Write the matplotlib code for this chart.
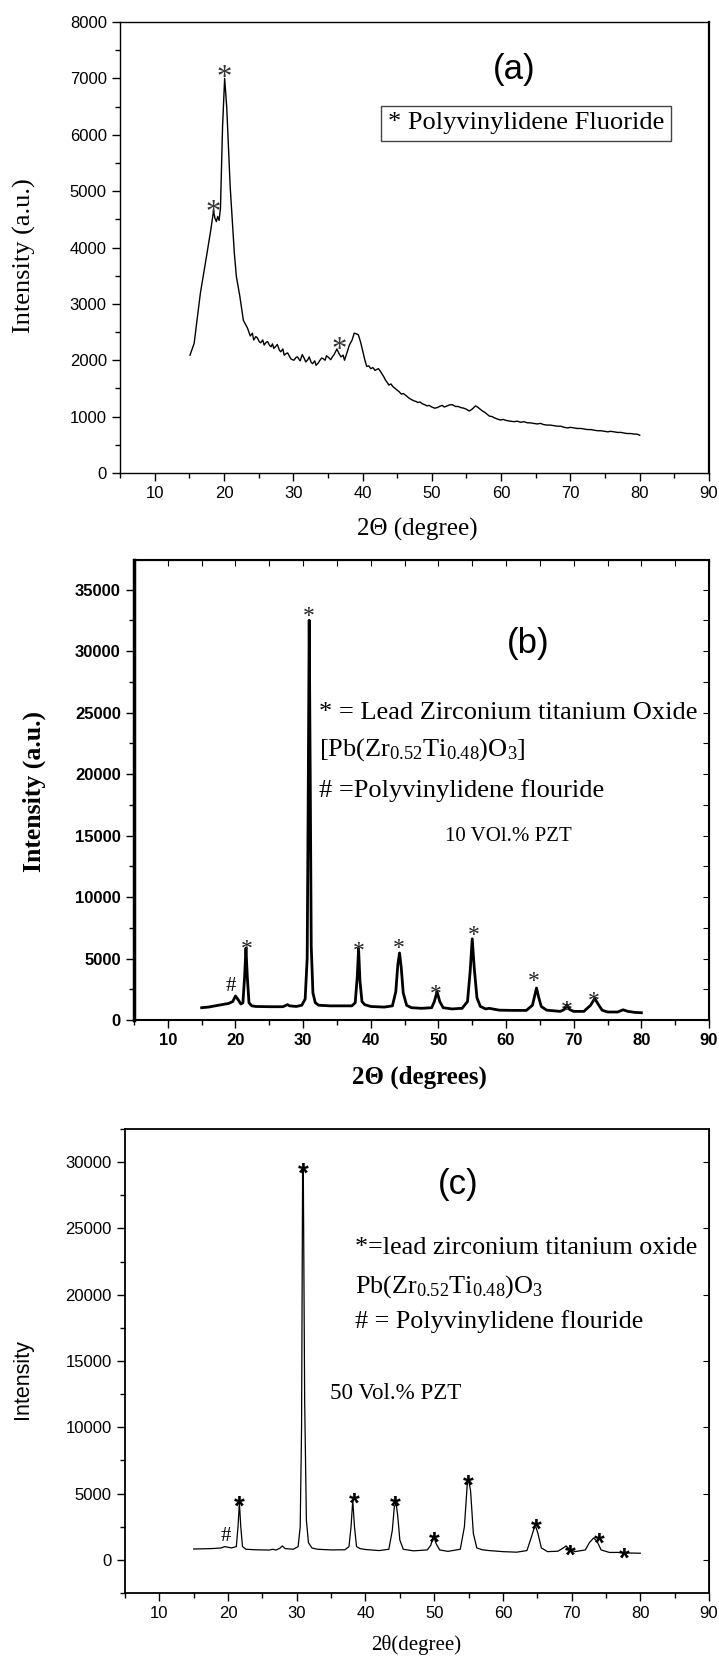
import matplotlib
matplotlib.use("Agg")
import matplotlib.pyplot as plt
from matplotlib.ticker import MultipleLocator

plt.rcParams['mathtext.fontset'] = 'custom'
plt.rcParams['mathtext.rm'] = 'Liberation Serif'
plt.rcParams['mathtext.it'] = 'Liberation Serif:italic'
plt.rcParams['mathtext.bf'] = 'Liberation Serif:bold'

SERIF = 'Liberation Serif'
SANS = 'Liberation Sans'

# ---- panel (a): pure PVDF ----
x_a = [15.1, 15.7, 16.6, 17.4, 18.1, 18.5, 18.7, 18.9, 19.1, 19.3, 19.5, 19.8, 20.1, 20.4, 20.9,
       21.5, 21.8, 22.3, 22.8, 23.1, 23.4, 23.8, 24.1, 24.3, 24.6, 24.8, 25.1, 25.3, 25.6, 25.8,
       26.1, 26.3, 26.6, 26.8, 27.0, 27.2, 27.5, 27.7, 28.0, 28.2, 28.5, 28.7, 29.0, 29.2, 29.5,
       29.7, 30.1, 30.4, 30.6, 31.0, 31.3, 31.6, 31.8, 32.1, 32.3, 32.6, 32.8, 33.1, 33.3, 33.6,
       33.8, 34.1, 34.3, 34.6, 34.8, 35.1, 35.4, 35.7, 35.9, 36.3, 36.6, 36.9, 37.2, 37.4, 37.8,
       38.1, 38.5, 38.8, 39.1, 39.4, 39.7, 40.0, 40.3, 40.6, 40.9, 41.2, 41.5, 41.8, 42.1, 42.3,
       42.6, 42.8, 43.1, 43.3, 43.6, 43.8, 44.1, 44.4, 44.7, 45.0, 45.3, 45.6, 45.9, 46.2, 46.5,
       46.8, 47.1, 47.4, 47.7, 48.0, 48.3, 48.6, 49.0, 49.3, 49.6, 50.0, 50.4, 50.8, 51.1, 51.5,
       51.8, 52.2, 52.6, 53.0, 53.4, 53.8, 54.2, 54.6, 55.0, 55.4, 55.8, 56.3, 56.6, 57.0, 57.3,
       57.6, 58.0, 58.3, 58.7, 59.0, 59.4, 59.9, 60.3, 60.8, 61.3, 61.9, 62.3, 62.8, 63.3, 63.8,
       64.2, 64.7, 65.2, 65.7, 66.1, 66.6, 67.1, 67.6, 68.1, 68.6, 69.1, 69.6, 70.0, 70.5, 71.0,
       71.5, 72.0, 72.5, 73.0, 73.4, 73.9, 74.4, 74.9, 75.4, 75.8, 76.3, 76.8, 77.3, 77.7, 78.2,
       78.7, 79.2, 79.6, 80.0]
y_a = [2090, 2300, 3190, 3780, 4310, 4650, 4520, 4460, 4550, 4480, 4700, 6140, 7000, 6490, 5080,
       3900, 3480, 3130, 2710, 2640, 2570, 2430, 2480, 2360, 2420, 2400, 2330, 2310, 2360, 2270,
       2320, 2330, 2260, 2240, 2290, 2210, 2250, 2280, 2180, 2150, 2200, 2090, 2120, 2130, 2060,
       2020, 2000, 2050, 2060, 1990, 2100, 2030, 1970, 2010, 2060, 1960, 1940, 1990, 1910, 1950,
       1990, 2040, 2030, 2000, 2080, 2050, 2010, 2070, 2100, 2200, 2120, 2060, 2090, 2000, 2150,
       2270, 2360, 2480, 2470, 2450, 2330, 2180, 2020, 1890, 1900, 1850, 1870, 1820, 1840, 1850,
       1800, 1760, 1700, 1650, 1600, 1560, 1580, 1530, 1500, 1470, 1440, 1400, 1410, 1380, 1350,
       1320, 1300, 1280, 1270, 1250, 1260, 1230, 1210, 1190, 1200, 1170, 1150, 1160, 1180, 1200,
       1170, 1190, 1210, 1210, 1180, 1180, 1160, 1150, 1130, 1100, 1130, 1190, 1170, 1130, 1100,
       1080, 1040, 1010, 1000, 980, 960, 940, 950, 930, 920, 910, 920, 900, 910, 890,
       890, 880, 870, 880, 860, 850, 850, 840, 830, 830, 810, 800, 810, 800, 790,
       790, 780, 770, 770, 760, 750, 750, 740, 730, 740, 730, 720, 720, 710, 700,
       700, 690, 690, 670]
stars_a_x = [18.4, 20.1, 36.6]
stars_a_y = [4760, 7140, 2330]

# ---- panel (b): 10 vol.% PZT ----
x_b = [15, 16, 17, 18, 19, 19.6, 20.0, 20.4, 20.8, 21.1, 21.35, 21.55, 21.75, 22.0, 22.4,
       23, 25, 27, 27.7, 28.0, 29, 29.8, 30.3, 30.6, 30.75, 30.9, 31.05, 31.2, 31.45, 31.8,
       32.3, 34, 36, 37.2, 37.7, 38.0, 38.2, 38.4, 38.7, 39.1, 40, 42, 43.2, 43.7, 44.0,
       44.25, 44.5, 44.8, 45.3, 46, 47.5, 49, 49.4, 49.8, 50.2, 50.7, 52, 53.5, 54.3, 54.7,
       55.0, 55.3, 55.7, 56.2, 57, 57.5, 59, 61, 63, 63.9, 64.2, 64.5, 64.8, 65.2, 66,
       68, 68.6, 69.0, 69.4, 70, 71.5, 72.5, 73.1, 73.6, 74.2, 75, 76.5, 77.3, 78, 79, 80]
y_b = [1000, 1050, 1150, 1250, 1350, 1500, 1950, 1650, 1300, 1400, 3500, 5850, 3500, 1400, 1150,
       1100, 1080, 1080, 1250, 1150, 1100, 1200, 1700, 5000, 18000, 32500, 20000, 6000, 2200, 1400,
       1200, 1150, 1150, 1150, 1400, 3500, 5800, 3200, 1500, 1250, 1100, 1050, 1150, 2300, 4500,
       5450, 4300, 2200, 1200, 1000, 950, 1000, 1500, 2300, 1500, 1000, 900, 950, 1500, 4000,
       6600, 4200, 1800, 1100, 900, 950, 800, 780, 780, 1200, 1900, 2600, 1900, 1100, 800,
       700, 850, 1250, 850, 700, 700, 1200, 1750, 1300, 800, 650, 650, 830, 700, 620, 590]
stars_b_x = [21.6, 30.8, 38.3, 44.2, 49.6, 55.3, 64.1, 69.0, 72.9]
stars_b_y = [6100, 33200, 5960, 6190, 2460, 7280, 3500, 1200, 1900]

# ---- panel (c): 50 vol.% PZT ----
x_c = [15, 16, 17, 18, 19, 19.5, 20, 20.5, 21.2, 21.45, 21.65, 21.85, 22.1, 22.6, 24,
       26, 26.5, 27, 27.6, 27.9, 28.3, 29.5, 30.2, 30.5, 30.7, 30.85, 30.95, 31.15, 31.4, 31.7,
       32.2, 33, 35, 37, 37.6, 37.9, 38.15, 38.4, 38.7, 39.2, 40, 42, 43.4, 43.9, 44.2,
       44.45, 44.7, 45, 45.5, 47, 49, 49.5, 49.9, 50.3, 50.8, 52, 53.8, 54.4, 54.8, 55.0,
       55.3, 55.7, 56.2, 57, 58, 60, 62, 63.5, 64.2, 64.7, 65.1, 65.6, 66.5, 68, 68.8,
       69.2, 69.7, 70.5, 72, 72.6, 73.2, 73.7, 74.3, 75.5, 77, 78, 79, 80]
y_c = [820, 830, 840, 860, 900, 1000, 950, 900, 1000, 2500, 4300, 2500, 1000, 800, 760,
       740, 800, 740, 900, 1050, 850, 800, 1000, 2500, 10000, 29500, 29500, 12000, 3000, 1300,
       900, 800, 750, 760, 1000, 2500, 4500, 2500, 1000, 850, 780, 700, 800, 2200, 4000,
       4300, 3300, 1500, 800, 680, 750, 1100, 1800, 1200, 750, 640, 800, 2500, 5600, 6100,
       5200, 2000, 900, 760, 700, 620, 580, 700, 1800, 2650, 2000, 900, 620, 650, 900,
       1050, 800, 620, 750, 1300, 1650, 1400, 750, 560, 560, 520, 510, 500]
stars_c_x = [21.7, 31.0, 38.3, 44.4, 50.0, 55.0, 64.9, 69.8, 74.0, 77.7]
stars_c_y = [4520, 29690, 4800, 4520, 1820, 6090, 2815, 825, 1760, 625]

W, H = 719, 1661
fig = plt.figure(figsize=(W / 100, H / 100), dpi=100)


def box(l, t, r, b):
    return [l / W, 1 - b / H, (r - l) / W, (b - t) / H]


def base_axis(ax, xlim, ylim, ymaj, ymin, lw):
    ax.set_xlim(*xlim)
    ax.set_ylim(*ylim)
    ax.xaxis.set_major_locator(MultipleLocator(10))
    ax.xaxis.set_minor_locator(MultipleLocator(5))
    ax.yaxis.set_major_locator(MultipleLocator(ymaj))
    ax.yaxis.set_minor_locator(MultipleLocator(ymin))
    ax.tick_params(which='both', direction='out', width=1.0)
    ax.tick_params(which='major', length=6)
    ax.tick_params(which='minor', length=3.5)
    for s in ax.spines.values():
        s.set_linewidth(lw)


def star(ax, x, y, **kw):
    ax.text(x, y, '*', ha='center', va='center', **kw)


# ---------- (a) ----------
ax1 = fig.add_axes(box(120, 22, 709, 473))
ax1.plot(x_a, y_a, color='black', lw=1.0)
base_axis(ax1, (5, 90), (0, 8000), 1000, 500, 1.0)
ax1.spines['right'].set_linewidth(1.6)
for lab in ax1.get_xticklabels() + ax1.get_yticklabels():
    lab.set_family(SANS)
    lab.set_fontsize(12)
ax1.set_xlabel('2Θ (degree)', family=SERIF, fontsize=18, va='center')
ax1.set_ylabel('Intensity (a.u.)', family=SERIF, fontsize=19, va='center')
ax1.xaxis.set_label_coords(0.504, -0.126)
ax1.yaxis.set_label_coords(-0.163, 0.481)
for sx, sy in zip(stars_a_x, stars_a_y):
    star(ax1, sx, sy - 150, family=SERIF, fontsize=22, color='#333333')
ax1.text(61.9, 7150, '(a)', family=SANS, fontsize=25, ha='center', va='center')
ax1.text(0.455, 0.775, '* Polyvinylidene Fluoride', transform=ax1.transAxes,
         family=SERIF, fontsize=19, ha='left', va='center',
         bbox=dict(boxstyle='square,pad=0.25', fc='white', ec='#444444', lw=1.0))

# ---------- (b) ----------
ax2 = fig.add_axes(box(134, 560, 709, 1020))
ax2.plot(x_b, y_b, color='black', lw=2.0)
base_axis(ax2, (5, 90), (0, 37400), 5000, 2500, 1.5)
ax2.spines['left'].set_linewidth(2.5)
for lab in ax2.get_xticklabels() + ax2.get_yticklabels():
    lab.set_family(SANS)
    lab.set_fontsize(12)
    lab.set_fontweight('bold')
top2 = ax2.secondary_xaxis('top')
top2.set_xticks(range(5, 95, 5))
top2.tick_params(direction='in', length=4, labeltop=False)
right2 = ax2.secondary_yaxis('right')
right2.set_yticks(range(0, 37500, 2500))
right2.tick_params(direction='in', length=4, labelright=False)
ax2.set_xlabel('2Θ (degrees)', family=SERIF, fontsize=18, fontweight='bold', va='center')
ax2.set_ylabel('Intensity (a.u.)', family=SERIF, fontsize=18.5, fontweight='bold', va='center')
ax2.xaxis.set_label_coords(0.497, -0.124)
ax2.yaxis.set_label_coords(-0.174, 0.496)
for sx, sy in zip(stars_b_x, stars_b_y):
    star(ax2, sx, sy - 400, family=SERIF, fontsize=17, color='#222222')
ax2.text(19.3, 2740, '#', family=SERIF, fontsize=15, ha='center', va='center')
ax2.text(63.2, 30650, '(b)', family=SANS, fontsize=25, ha='center', va='center')
ax2.text(32.4, 24950, '* = Lead Zirconium titanium Oxide', family=SERIF, fontsize=19,
         ha='left', va='center')
ax2.text(32.4, 22000, r'[Pb(Zr$_{0.52}$Ti$_{0.48}$)O$_3$]', family=SERIF, fontsize=19,
         ha='left', va='center')
ax2.text(32.4, 18650, '# =Polyvinylidene flouride', family=SERIF, fontsize=19,
         ha='left', va='center')
ax2.text(60.3, 14900, '10 VOl.% PZT', family=SERIF, fontsize=15, ha='center', va='center')

# ---------- (c) ----------
ax3 = fig.add_axes(box(125, 1129, 709, 1593))
ax3.plot(x_c, y_c, color='black', lw=0.9)
base_axis(ax3, (5, 90), (-2500, 32500), 5000, 2500, 1.3)
for lab in ax3.get_xticklabels() + ax3.get_yticklabels():
    lab.set_family(SANS)
    lab.set_fontsize(12)
right3 = ax3.secondary_yaxis('right')
right3.set_yticks(range(0, 32500, 5000))
right3.tick_params(direction='in', length=4, labelright=False)
ax3.set_xlabel('2θ(degree)', family=SERIF, fontsize=15, va='center')
ax3.set_ylabel('Intensity', family=SANS, fontsize=15.5, va='center')
ax3.xaxis.set_label_coords(0.498, -0.112)
ax3.yaxis.set_label_coords(-0.175, 0.461)
for sx, sy in zip(stars_c_x, stars_c_y):
    star(ax3, sx, sy - 600, family=SANS, fontsize=20, fontweight='bold')
ax3.text(19.7, 1760, '#', family=SERIF, fontsize=15, ha='center', va='center')
ax3.text(53.5, 28300, '(c)', family=SANS, fontsize=25, ha='center', va='center')
ax3.text(38.5, 23500, '*=lead zirconium titanium oxide', family=SERIF, fontsize=18.8,
         ha='left', va='center')
ax3.text(38.5, 20600, r'Pb(Zr$_{0.52}$Ti$_{0.48}$)O$_3$', family=SERIF, fontsize=18.8,
         ha='left', va='center')
ax3.text(38.5, 18000, '# = Polyvinylidene flouride', family=SERIF, fontsize=18.8,
         ha='left', va='center')
ax3.text(34.8, 12560, '50 Vol.% PZT', family=SERIF, fontsize=16.6, ha='left', va='center')

fig.savefig('out.png', dpi=100)
